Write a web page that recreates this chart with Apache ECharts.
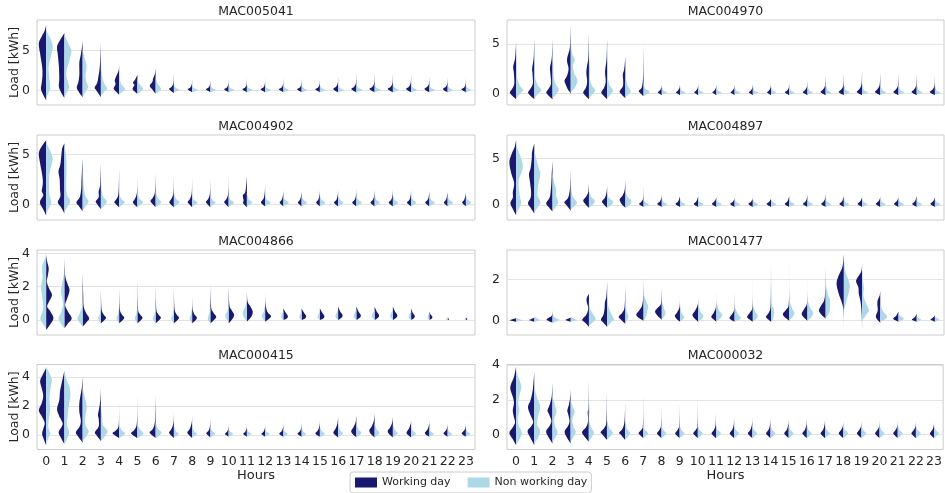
<!DOCTYPE html>
<html><head><meta charset="utf-8">
<script src="https://cdn.jsdelivr.net/npm/echarts@6/dist/echarts.min.js"></script>
<style>html,body{margin:0;padding:0;background:#fff}#c{width:945px;height:493px}</style>
</head><body><div id="c"></div>
<script>
// ---------- DATA ----------
const HOURS = ['0','1','2','3','4','5','6','7','8','9','10','11','12','13','14','15','16','17','18','19','20','21','22','23'];
const METERS = ['MAC005041','MAC004970','MAC004902','MAC004897','MAC004866','MAC001477','MAC000415','MAC000032'];
const LEGEND = ['Working day','Non working day'];
const Y_RANGES = [[-1.79,8.84],[-1.19,7.43],[-1.57,6.93],[-1.6,7.5],[-0.9,4.2],[-0.69,3.42],[-0.98,4.84],[-0.85,4.03]];
const Y_TICKS = [[0,5],[0,5],[0,5],[0,5],[0,2,4],[0,2],[0,2,4],[0,2,4]];
// which side the working-day half is drawn on (-1 left, 1 right)
const WORK_SIDE = [-1,-1,-1,-1,1,-1,-1,-1];

// Each half violin: [load kWh, relative density 0..1] knots, bottom to top
const MAC005041_work = [
 [[-1.2,0],[-0.6,.35],[0.2,.7],[1,.6],[2,.5],[3,.55],[4.5,.8],[5.9,1],[6.8,.6],[7.5,.2],[8.2,0]],
 [[-0.9,0],[-0.3,.4],[0.5,.75],[1.5,.7],[3,.75],[4.5,.9],[5.5,1],[6.3,.6],[7.2,0]],
 [[-0.8,0],[-0.2,.5],[0.4,.8],[1,.6],[2,.45],[3.5,.45],[4.5,.25],[5.5,.08],[6.3,0]],
 [[-0.8,0],[0,.6],[0.4,.85],[1,.5],[2,.3],[3,.15],[4.5,.05],[6,0]],
 [[-0.5,0],[0,.55],[0.3,.75],[0.8,.5],[1.3,.6],[1.8,.4],[2.5,.08],[3.2,0]],
 [[-0.4,0],[0.1,.6],[0.4,.6],[0.7,.4],[1,.6],[1.4,.3],[2,0]],
 [[-0.4,0],[0.1,.4],[0.6,.8],[1.1,.45],[1.5,.35],[2.1,.1],[2.8,0]],
 [[-0.3,0],[0.05,.5],[0.25,.65],[0.5,.3],[1,.06],[2.3,0]],
 [[-0.2,0],[0.05,.45],[0.2,.6],[0.4,.25],[0.8,.05],[1.5,0]],
 [[-0.2,0],[0.05,.45],[0.2,.6],[0.4,.25],[0.8,.05],[1.5,0]],
 [[-0.2,0],[0.05,.45],[0.2,.6],[0.4,.25],[0.8,.05],[1.5,0]],
 [[-0.2,0],[0.05,.45],[0.2,.6],[0.4,.25],[0.8,.05],[1.6,0]],
 [[-0.2,0],[0.05,.45],[0.2,.62],[0.4,.25],[0.8,.05],[1.6,0]],
 [[-0.2,0],[0.05,.45],[0.2,.62],[0.4,.25],[0.8,.05],[1.6,0]],
 [[-0.2,0],[0.05,.45],[0.2,.62],[0.4,.25],[0.8,.05],[1.6,0]],
 [[-0.2,0],[0.05,.45],[0.2,.62],[0.4,.25],[0.8,.05],[1.5,0]],
 [[-0.2,0],[0.05,.5],[0.25,.65],[0.5,.3],[0.9,.06],[1.8,0]],
 [[-0.2,0],[0.05,.5],[0.25,.68],[0.5,.3],[1,.06],[2.3,0]],
 [[-0.2,0],[0.05,.5],[0.25,.7],[0.5,.3],[1,.06],[2.3,0]],
 [[-0.2,0],[0.05,.5],[0.25,.7],[0.5,.3],[1,.06],[2.2,0]],
 [[-0.2,0],[0.05,.5],[0.25,.68],[0.5,.3],[1,.06],[2.0,0]],
 [[-0.2,0],[0.05,.5],[0.25,.65],[0.5,.3],[0.9,.06],[1.8,0]],
 [[-0.2,0],[0.05,.5],[0.25,.62],[0.5,.25],[0.9,.05],[1.7,0]],
 [[-0.2,0],[0.05,.45],[0.2,.6],[0.4,.25],[0.8,.05],[1.6,0]]
];
const MAC005041_off = [
 [[-1,0],[-0.3,.3],[0.3,.55],[1.5,.45],[3,.35],[4.5,.7],[5.5,.9],[6.5,.6],[7.5,0]],
 [[-0.8,0],[0,.45],[0.5,.65],[1.5,.35],[2.5,.3],[4,.75],[5,.95],[6,.5],[7,0]],
 [[-0.7,0],[0,.5],[0.5,.75],[1.2,.5],[2,.4],[3,.55],[4,.3],[5,.05],[5.5,0]],
 [[-0.6,0],[0,.6],[0.3,.85],[1,.4],[2,.15],[3,.05],[4,0]],
 [[-0.5,0],[0,.6],[0.3,.8],[0.8,.3],[1.5,.1],[2.2,0]],
 [[-0.4,0],[0.1,.7],[0.4,.7],[0.9,.2],[1.5,0]],
 [[-0.4,0],[0.1,.7],[0.5,.6],[1,.2],[1.8,0]],
 [[-0.2,0],[0,.6],[0.15,.75],[0.35,.3],[0.7,.06],[1.3,0]],
 [[-0.2,0],[0,.6],[0.12,.75],[0.3,.3],[0.6,.05],[1.1,0]],
 [[-0.2,0],[0,.6],[0.12,.75],[0.3,.3],[0.6,.05],[1.0,0]],
 [[-0.2,0],[0,.6],[0.12,.75],[0.3,.3],[0.6,.05],[1.0,0]],
 [[-0.2,0],[0,.6],[0.12,.75],[0.3,.3],[0.6,.05],[1.1,0]],
 [[-0.2,0],[0,.6],[0.12,.75],[0.3,.3],[0.6,.05],[1.1,0]],
 [[-0.2,0],[0,.6],[0.12,.75],[0.3,.3],[0.6,.05],[1.1,0]],
 [[-0.2,0],[0,.6],[0.12,.75],[0.3,.3],[0.6,.05],[1.1,0]],
 [[-0.2,0],[0,.6],[0.12,.75],[0.3,.3],[0.6,.05],[1.1,0]],
 [[-0.2,0],[0,.6],[0.12,.75],[0.3,.3],[0.6,.05],[1.2,0]],
 [[-0.2,0],[0,.6],[0.15,.75],[0.35,.3],[0.7,.05],[1.3,0]],
 [[-0.2,0],[0,.6],[0.15,.75],[0.35,.3],[0.7,.05],[1.3,0]],
 [[-0.2,0],[0,.6],[0.15,.75],[0.35,.3],[0.7,.05],[1.3,0]],
 [[-0.2,0],[0,.6],[0.15,.75],[0.35,.3],[0.7,.05],[1.2,0]],
 [[-0.2,0],[0,.6],[0.12,.75],[0.3,.3],[0.6,.05],[1.2,0]],
 [[-0.2,0],[0,.6],[0.12,.75],[0.3,.3],[0.6,.05],[1.1,0]],
 [[-0.2,0],[0,.6],[0.12,.75],[0.3,.3],[0.6,.05],[1.1,0]]
];
const MAC004970_work = [
 [[-0.6,0],[-0.2,.6],[0.1,.85],[0.5,.5],[1,.25],[2,.3],[2.7,.4],[3.5,.15],[4.5,.05],[5.2,0]],
 [[-0.6,0],[-0.2,.6],[0.1,.85],[0.5,.5],[1,.2],[2,.25],[2.5,.3],[3.5,.1],[4.5,.04],[5.6,0]],
 [[-0.6,0],[-0.2,.6],[0.1,.85],[0.5,.5],[1,.2],[2,.3],[2.6,.35],[3.5,.12],[4.5,.04],[5.5,0]],
 [[0,0],[0.4,.4],[0.9,.7],[1.3,.85],[1.8,.5],[2.5,.3],[3.2,.5],[3.7,.45],[4.5,.15],[5.5,.05],[6.9,0]],
 [[-0.6,0],[-0.2,.55],[0.1,.78],[0.6,.4],[1.2,.25],[2,.35],[2.6,.3],[3.5,.1],[5,.03],[6.2,0]],
 [[-0.6,0],[-0.2,.55],[0.1,.8],[0.6,.4],[1.2,.2],[2,.28],[2.5,.25],[3.5,.08],[5,.02],[5.5,0]],
 [[-0.5,0],[-0.1,.55],[0.2,.78],[0.7,.35],[1.3,.3],[1.9,.35],[2.5,.15],[3.7,0]],
 [[-0.3,0],[0.05,.5],[0.25,.65],[0.6,.25],[1.5,.08],[3,.03],[4.9,0]],
 [[-0.2,0],[0,.4],[0.1,.55],[0.3,.25],[0.6,.05],[1.0,0]],
 [[-0.2,0],[0,.4],[0.1,.55],[0.3,.25],[0.6,.05],[1.0,0]],
 [[-0.2,0],[0,.4],[0.1,.55],[0.3,.25],[0.6,.05],[1.1,0]],
 [[-0.2,0],[0,.4],[0.1,.55],[0.3,.25],[0.6,.05],[1.0,0]],
 [[-0.2,0],[0,.4],[0.1,.55],[0.3,.25],[0.6,.05],[1.0,0]],
 [[-0.2,0],[0,.4],[0.1,.55],[0.3,.25],[0.6,.05],[1.0,0]],
 [[-0.2,0],[0,.4],[0.1,.55],[0.3,.25],[0.6,.05],[1.1,0]],
 [[-0.2,0],[0,.45],[0.12,.6],[0.3,.25],[0.6,.05],[1.2,0]],
 [[-0.2,0],[0,.45],[0.12,.62],[0.35,.3],[0.7,.06],[1.3,0]],
 [[-0.2,0],[0,.5],[0.15,.7],[0.4,.35],[0.8,.08],[1.8,0]],
 [[-0.2,0],[0,.5],[0.15,.7],[0.4,.35],[0.8,.08],[1.9,0]],
 [[-0.2,0],[0,.5],[0.15,.72],[0.45,.35],[0.9,.08],[2.2,0]],
 [[-0.2,0],[0,.5],[0.15,.72],[0.45,.35],[0.9,.08],[2.1,0]],
 [[-0.2,0],[0,.5],[0.15,.7],[0.4,.35],[0.8,.08],[2.0,0]],
 [[-0.2,0],[0,.5],[0.15,.7],[0.4,.35],[0.8,.08],[1.9,0]],
 [[-0.2,0],[0,.5],[0.15,.7],[0.4,.3],[0.8,.06],[1.8,0]]
];
const MAC004970_off = [
 [[-0.5,0],[0,.6],[0.35,.95],[0.8,.5],[1.5,.15],[2.5,.1],[3.5,.05],[4.5,0]],
 [[-0.5,0],[0,.6],[0.35,.95],[0.8,.5],[1.5,.15],[2.5,.1],[3.5,.05],[4.8,0]],
 [[-0.5,0],[0,.6],[0.4,.85],[1,.4],[1.8,.15],[3,.1],[4.5,0]],
 [[0.1,0],[0.5,.5],[1,.85],[1.4,.9],[2,.5],[2.8,.3],[3.4,.55],[4,.2],[5,.05],[6,0]],
 [[-0.5,0],[0,.6],[0.3,.85],[0.8,.4],[1.5,.15],[2.5,.15],[3.5,.05],[4.5,0]],
 [[-0.5,0],[0,.6],[0.3,.8],[0.8,.35],[1.5,.12],[2.5,.1],[3.5,.03],[4.5,0]],
 [[-0.4,0],[0,.6],[0.3,.7],[0.8,.3],[1.5,.1],[2.5,0]],
 [[-0.3,0],[0,.65],[0.2,.8],[0.5,.2],[1.2,0]],
 [[-0.1,0],[0,.6],[0.1,.7],[0.3,.2],[0.8,0]],
 [[-0.1,0],[0,.6],[0.1,.7],[0.3,.2],[0.8,0]],
 [[-0.1,0],[0,.6],[0.1,.7],[0.3,.2],[0.8,0]],
 [[-0.1,0],[0,.6],[0.1,.7],[0.3,.2],[0.8,0]],
 [[-0.1,0],[0,.6],[0.1,.7],[0.3,.2],[0.8,0]],
 [[-0.1,0],[0,.6],[0.1,.7],[0.3,.2],[0.8,0]],
 [[-0.1,0],[0,.6],[0.1,.7],[0.3,.2],[0.8,0]],
 [[-0.1,0],[0,.6],[0.1,.7],[0.3,.2],[0.9,0]],
 [[-0.1,0],[0,.6],[0.1,.72],[0.3,.25],[0.9,0]],
 [[-0.1,0],[0,.6],[0.12,.75],[0.35,.25],[1.0,0]],
 [[-0.1,0],[0,.6],[0.12,.75],[0.35,.25],[1.0,0]],
 [[-0.1,0],[0,.6],[0.12,.75],[0.35,.25],[1.1,0]],
 [[-0.1,0],[0,.6],[0.12,.75],[0.35,.25],[1.0,0]],
 [[-0.1,0],[0,.6],[0.12,.75],[0.35,.25],[1.0,0]],
 [[-0.1,0],[0,.6],[0.12,.72],[0.35,.25],[1.0,0]],
 [[-0.1,0],[0,.6],[0.1,.7],[0.3,.2],[0.9,0]]
];
const MAC004902_work = [
 [[-1.1,0],[-0.5,.4],[0.2,.85],[0.9,.4],[1.3,.6],[1.8,.5],[2.3,.45],[3,.55],[4,.8],[5.1,1],[5.8,.6],[6.4,0]],
 [[-0.9,0],[-0.3,.45],[0.2,.9],[0.8,.55],[1.5,.6],[2.5,.65],[3.3,.8],[4,.55],[5,.4],[5.6,.3],[6.1,0]],
 [[-0.7,0],[-0.2,.5],[0.2,.85],[0.7,.4],[1.5,.2],[2.5,.15],[3.5,.08],[4.6,0]],
 [[-0.5,0],[0,.5],[0.3,.7],[0.7,.3],[1.3,.3],[2,.1],[4.1,0]],
 [[-0.3,0],[0.05,.5],[0.25,.65],[0.6,.3],[1.2,.08],[3.5,0]],
 [[-0.3,0],[0.05,.5],[0.25,.6],[0.6,.3],[1.2,.06],[2.6,0]],
 [[-0.3,0],[0.1,.5],[0.35,.7],[0.7,.35],[1.3,.08],[3.1,0]],
 [[-0.3,0],[0.05,.5],[0.25,.62],[0.6,.3],[1.2,.06],[2.8,0]],
 [[-0.3,0],[0.05,.45],[0.25,.6],[0.6,.25],[1.2,.05],[2.5,0]],
 [[-0.3,0],[0.05,.45],[0.25,.6],[0.6,.25],[1.2,.05],[2.6,0]],
 [[-0.3,0],[0.05,.45],[0.25,.6],[0.6,.25],[1.2,.05],[2.8,0]],
 [[-0.3,0],[0.1,.5],[0.4,.45],[0.9,.55],[1.3,.2],[2.8,0]],
 [[-0.2,0],[0.05,.45],[0.25,.55],[0.6,.2],[1.2,.05],[2.0,0]],
 [[-0.2,0],[0.05,.4],[0.2,.5],[0.5,.2],[1,.04],[1.4,0]],
 [[-0.2,0],[0.05,.4],[0.2,.5],[0.5,.2],[1,.04],[1.3,0]],
 [[-0.2,0],[0.05,.4],[0.2,.5],[0.5,.2],[1,.04],[1.4,0]],
 [[-0.2,0],[0.05,.45],[0.2,.55],[0.5,.2],[1,.04],[1.5,0]],
 [[-0.2,0],[0.05,.45],[0.2,.55],[0.5,.2],[1,.04],[1.6,0]],
 [[-0.2,0],[0.05,.45],[0.2,.55],[0.5,.2],[1,.04],[1.5,0]],
 [[-0.2,0],[0.05,.45],[0.2,.55],[0.5,.2],[1,.04],[1.5,0]],
 [[-0.2,0],[0.05,.45],[0.2,.55],[0.5,.2],[1,.04],[1.5,0]],
 [[-0.2,0],[0.05,.45],[0.2,.55],[0.5,.2],[1,.04],[1.4,0]],
 [[-0.2,0],[0.05,.4],[0.2,.5],[0.5,.2],[1,.04],[1.3,0]],
 [[-0.2,0],[0.05,.4],[0.2,.5],[0.5,.2],[1,.04],[1.2,0]]
];
const MAC004902_off = [
 [[-1,0],[-0.4,.35],[0.2,.7],[1,.45],[2,.4],[3,.45],[4,.75],[4.6,.9],[5.3,.6],[6,.15],[6.5,0]],
 [[-0.8,0],[-0.2,.45],[0.3,.8],[1,.35],[2,.25],[3.5,.3],[4.8,.25],[5.5,.1],[6,0]],
 [[-0.6,0],[-0.1,.5],[0.3,.8],[0.9,.35],[1.8,.15],[3,.06],[4,0]],
 [[-0.5,0],[0,.6],[0.3,.8],[0.8,.3],[1.5,.1],[2.5,0]],
 [[-0.3,0],[0.05,.6],[0.25,.75],[0.6,.25],[1.2,0]],
 [[-0.3,0],[0.05,.6],[0.25,.75],[0.6,.25],[1.2,0]],
 [[-0.3,0],[0.05,.6],[0.25,.75],[0.6,.3],[1.3,0]],
 [[-0.3,0],[0.05,.6],[0.25,.75],[0.6,.25],[1.2,0]],
 [[-0.2,0],[0.05,.6],[0.2,.7],[0.5,.2],[1.0,0]],
 [[-0.2,0],[0.05,.6],[0.2,.7],[0.5,.2],[1.0,0]],
 [[-0.2,0],[0.05,.6],[0.2,.7],[0.5,.2],[1.0,0]],
 [[-0.2,0],[0.05,.6],[0.2,.7],[0.5,.25],[1.1,0]],
 [[-0.2,0],[0.05,.6],[0.2,.7],[0.5,.2],[1.0,0]],
 [[-0.2,0],[0.05,.6],[0.2,.7],[0.5,.2],[0.9,0]],
 [[-0.2,0],[0.05,.6],[0.2,.7],[0.5,.2],[0.9,0]],
 [[-0.2,0],[0.05,.6],[0.2,.7],[0.5,.2],[0.9,0]],
 [[-0.2,0],[0.05,.6],[0.2,.7],[0.5,.2],[1.0,0]],
 [[-0.2,0],[0.05,.6],[0.2,.7],[0.5,.2],[1.0,0]],
 [[-0.2,0],[0.05,.6],[0.2,.7],[0.5,.2],[1.0,0]],
 [[-0.2,0],[0.05,.6],[0.2,.7],[0.5,.2],[1.0,0]],
 [[-0.2,0],[0.05,.6],[0.2,.7],[0.5,.2],[1.0,0]],
 [[-0.2,0],[0.05,.6],[0.2,.7],[0.5,.2],[0.9,0]],
 [[-0.2,0],[0.05,.6],[0.2,.7],[0.5,.2],[0.9,0]],
 [[-0.2,0],[0.05,.6],[0.2,.7],[0.5,.2],[0.9,0]]
];
const MAC004897_work = [
 [[-1.1,0],[-0.5,.4],[0.2,.78],[0.8,.45],[1.4,.45],[2,.3],[2.5,.3],[3.5,.7],[4.6,.92],[5.5,.6],[6.2,.2],[7,0]],
 [[-0.9,0],[-0.3,.5],[0.2,.87],[0.8,.5],[1.5,.45],[2.5,.6],[3.3,.73],[4,.5],[5,.35],[5.7,.3],[6.6,0]],
 [[-0.7,0],[-0.2,.55],[0.2,.87],[0.8,.4],[1.5,.25],[2.5,.15],[3.5,.1],[4.7,0]],
 [[-0.6,0],[0,.6],[0.3,.87],[0.8,.35],[1.5,.15],[2.5,.05],[3.7,0]],
 [[-0.3,0],[0.1,.5],[0.5,.78],[0.9,.4],[1.4,.1],[2.3,0]],
 [[-0.3,0],[0.1,.5],[0.4,.7],[0.8,.3],[1.3,.1],[2,0]],
 [[-0.3,0],[0.1,.5],[0.6,.78],[1,.4],[1.6,.1],[2.7,0]],
 [[-0.2,0],[0,.45],[0.15,.6],[0.4,.25],[0.8,.05],[2.0,0]],
 [[-0.2,0],[0,.45],[0.15,.6],[0.4,.25],[0.8,.05],[1.2,0]],
 [[-0.2,0],[0,.45],[0.15,.6],[0.4,.25],[0.8,.05],[1.0,0]],
 [[-0.2,0],[0,.45],[0.15,.6],[0.4,.25],[0.8,.05],[1.0,0]],
 [[-0.2,0],[0,.45],[0.15,.6],[0.4,.25],[0.7,.05],[0.9,0]],
 [[-0.2,0],[0,.45],[0.15,.6],[0.35,.25],[0.6,.05],[0.8,0]],
 [[-0.2,0],[0,.45],[0.15,.6],[0.35,.25],[0.6,.05],[0.8,0]],
 [[-0.2,0],[0,.45],[0.15,.6],[0.35,.25],[0.6,.05],[0.8,0]],
 [[-0.2,0],[0,.45],[0.15,.6],[0.4,.25],[0.8,.05],[1.0,0]],
 [[-0.2,0],[0,.45],[0.15,.6],[0.4,.25],[0.8,.05],[1.3,0]],
 [[-0.2,0],[0,.45],[0.15,.6],[0.4,.25],[0.8,.05],[1.4,0]],
 [[-0.2,0],[0,.45],[0.15,.6],[0.4,.25],[0.8,.05],[1.0,0]],
 [[-0.2,0],[0,.45],[0.15,.6],[0.4,.25],[0.7,.05],[0.9,0]],
 [[-0.2,0],[0,.45],[0.15,.6],[0.4,.25],[0.7,.05],[0.9,0]],
 [[-0.2,0],[0,.45],[0.15,.6],[0.4,.25],[0.7,.05],[0.9,0]],
 [[-0.2,0],[0,.45],[0.15,.6],[0.4,.25],[0.8,.05],[1.0,0]],
 [[-0.2,0],[0,.45],[0.15,.6],[0.4,.25],[0.7,.05],[0.9,0]]
];
const MAC004897_off = [
 [[-1,0],[-0.4,.35],[0.2,.7],[1,.5],[2,.35],[2.8,.4],[3.5,.75],[4.2,.92],[5,.7],[6,.2],[6.8,0]],
 [[-0.8,0],[-0.2,.5],[0.3,.85],[1,.45],[2,.5],[3.3,.82],[4,.6],[5,.25],[6,0]],
 [[-0.6,0],[-0.1,.5],[0.3,.8],[1,.5],[1.7,.5],[2.5,.2],[3.5,0]],
 [[-0.5,0],[0,.6],[0.3,.85],[0.9,.3],[1.6,.1],[2.6,0]],
 [[-0.3,0],[0.1,.6],[0.5,.78],[0.9,.3],[1.5,0]],
 [[-0.3,0],[0.1,.7],[0.4,.8],[0.8,.2],[1.4,0]],
 [[-0.3,0],[0.1,.7],[0.5,.8],[0.9,.3],[1.5,0]],
 [[-0.2,0],[0,.6],[0.12,.7],[0.35,.2],[0.8,0]],
 [[-0.2,0],[0,.6],[0.12,.7],[0.35,.2],[0.8,0]],
 [[-0.2,0],[0,.6],[0.12,.7],[0.35,.2],[0.8,0]],
 [[-0.2,0],[0,.6],[0.12,.7],[0.35,.2],[0.8,0]],
 [[-0.2,0],[0,.6],[0.12,.7],[0.35,.2],[0.8,0]],
 [[-0.2,0],[0,.6],[0.12,.7],[0.35,.2],[0.7,0]],
 [[-0.2,0],[0,.6],[0.12,.7],[0.35,.2],[0.7,0]],
 [[-0.2,0],[0,.6],[0.12,.7],[0.35,.2],[0.7,0]],
 [[-0.2,0],[0,.6],[0.12,.7],[0.35,.2],[0.8,0]],
 [[-0.2,0],[0,.6],[0.12,.7],[0.35,.2],[0.8,0]],
 [[-0.2,0],[0,.6],[0.12,.7],[0.35,.2],[0.8,0]],
 [[-0.2,0],[0,.6],[0.12,.7],[0.35,.2],[0.8,0]],
 [[-0.2,0],[0,.6],[0.12,.7],[0.35,.2],[0.8,0]],
 [[-0.2,0],[0,.6],[0.12,.7],[0.35,.2],[0.8,0]],
 [[-0.2,0],[0,.6],[0.12,.7],[0.35,.2],[0.8,0]],
 [[-0.2,0],[0,.6],[0.12,.7],[0.35,.2],[0.8,0]],
 [[-0.2,0],[0,.6],[0.12,.7],[0.35,.2],[0.7,0]]
];
const MAC004866_work = [
 [[-0.6,0],[-0.3,.5],[0.1,1],[0.5,.6],[0.8,.15],[1.1,.4],[1.5,.8],[1.9,.4],[2.3,.1],[2.7,.25],[3.1,.35],[3.5,.15],[3.9,0]],
 [[-0.5,0],[-0.2,.5],[0.1,1],[0.5,.5],[0.9,.1],[1.3,.4],[1.8,.7],[2.2,.4],[2.7,.1],[3.7,0]],
 [[-0.4,0],[-0.1,.6],[0.1,.9],[0.4,.5],[0.8,.15],[1.5,.08],[2.8,0]],
 [[-0.2,0],[0,.5],[0.15,.7],[0.35,.35],[0.7,.08],[1.9,0]],
 [[-0.2,0],[0,.5],[0.15,.7],[0.35,.35],[0.7,.08],[1.9,0]],
 [[-0.2,0],[0,.5],[0.15,.7],[0.35,.35],[0.7,.08],[2.4,0]],
 [[-0.2,0],[0,.5],[0.15,.72],[0.35,.35],[0.7,.08],[2.1,0]],
 [[-0.2,0],[0,.5],[0.15,.7],[0.35,.35],[0.7,.08],[1.9,0]],
 [[-0.2,0],[0,.5],[0.15,.65],[0.35,.3],[0.7,.06],[1.4,0]],
 [[-0.2,0],[0,.5],[0.2,.8],[0.45,.4],[0.8,.1],[2.1,0]],
 [[-0.2,0],[0.05,.5],[0.3,.75],[0.6,.4],[0.9,.1],[2.0,0]],
 [[-0.1,0],[0.2,.6],[0.5,.8],[0.8,.5],[1.1,.1],[1.7,0]],
 [[-0.1,0],[0.1,.6],[0.25,.8],[0.5,.3],[1,.05],[1.7,0]],
 [[0,0],[0.1,.5],[0.25,.6],[0.45,.3],[0.7,0]],
 [[0,0],[0.1,.5],[0.25,.6],[0.45,.3],[0.7,0]],
 [[0,0],[0.1,.5],[0.25,.6],[0.45,.3],[0.7,0]],
 [[0,0],[0.15,.5],[0.3,.6],[0.5,.3],[0.8,0]],
 [[0,0],[0.15,.5],[0.3,.6],[0.5,.3],[0.8,0]],
 [[0,0],[0.15,.5],[0.3,.6],[0.5,.3],[0.8,0]],
 [[0,0],[0.15,.5],[0.3,.6],[0.5,.3],[0.8,0]],
 [[0,0],[0.12,.4],[0.25,.5],[0.45,.2],[0.7,0]],
 [[0,0],[0.1,.35],[0.2,.4],[0.35,.15],[0.5,0]],
 [[0,0],[0.03,.2],[0.08,.15],[0.15,0]],
 [[0,0],[0.03,.2],[0.08,.15],[0.15,0]]
];
const MAC004866_off = [
 [[-0.5,0],[-0.2,.5],[0.1,.8],[0.5,.5],[0.9,.4],[1.4,.55],[2,.7],[2.5,.5],[3,.55],[3.3,.5],[3.7,.15],[4,0]],
 [[-0.5,0],[-0.2,.5],[0.1,.8],[0.5,.4],[1,.2],[1.5,.4],[1.8,.45],[2.2,.3],[2.8,.05],[3.3,0]],
 [[-0.4,0],[-0.1,.5],[0.1,.7],[0.4,.4],[0.8,.1],[1.5,0]],
 [[-0.2,0],[0,.3],[0.15,.35],[0.35,.15],[0.8,0]],
 [[-0.2,0],[0,.3],[0.15,.35],[0.35,.15],[0.8,0]],
 [[-0.2,0],[0,.3],[0.15,.35],[0.35,.15],[0.8,0]],
 [[-0.2,0],[0,.3],[0.15,.35],[0.35,.15],[0.8,0]],
 [[-0.2,0],[0,.3],[0.15,.35],[0.35,.15],[0.8,0]],
 [[-0.2,0],[0,.3],[0.15,.35],[0.35,.15],[0.8,0]],
 [[-0.2,0],[0,.3],[0.15,.35],[0.35,.15],[0.8,0]],
 [[-0.1,0],[0.1,.35],[0.3,.45],[0.5,.2],[0.9,0]],
 [[-0.1,0],[0.2,.45],[0.5,.55],[0.8,.2],[1.2,0]],
 [[-0.1,0],[0.1,.3],[0.25,.45],[0.5,.2],[0.9,0]],
 [[0,0],[0.1,.25],[0.25,.3],[0.5,0]],
 [[0,0],[0.1,.25],[0.25,.3],[0.5,0]],
 [[0,0],[0.1,.25],[0.25,.3],[0.5,0]],
 [[0,0],[0.15,.3],[0.3,.35],[0.6,0]],
 [[0,0],[0.15,.3],[0.3,.35],[0.6,0]],
 [[0,0],[0.15,.3],[0.3,.35],[0.6,0]],
 [[0,0],[0.15,.3],[0.3,.35],[0.6,0]],
 [[0,0],[0.1,.25],[0.25,.3],[0.5,0]],
 [[0,0],[0.1,.2],[0.2,.25],[0.4,0]],
 [[0,0],[0.03,.2],[0.08,.15],[0.15,0]],
 [[0,0],[0.03,.2],[0.08,.15],[0.15,0]]
];
const MAC001477_work = [
 [[-0.05,0],[0.02,.85],[0.06,.6],[0.12,0]],
 [[-0.05,0],[0.03,.7],[0.07,.5],[0.15,0]],
 [[-0.1,0],[0.05,.8],[0.15,.5],[0.3,.05],[0.9,0]],
 [[-0.05,0],[0.03,.7],[0.08,.5],[0.15,0]],
 [[-0.3,0],[-0.1,.5],[0.05,.92],[0.3,.35],[0.6,.1],[0.9,.3],[1.1,.3],[1.3,0]],
 [[-0.3,0],[-0.1,.5],[0.05,.85],[0.3,.5],[0.6,.35],[0.9,.3],[1.2,.1],[1.9,0]],
 [[-0.15,0],[0.05,.6],[0.2,.9],[0.4,.4],[0.7,.1],[1.7,0]],
 [[0,0],[0.15,.7],[0.3,1],[0.5,.6],[0.75,.2],[1.2,.05],[2,0]],
 [[0.05,0],[0.25,.6],[0.45,.92],[0.65,.5],[0.85,.1],[1.6,0]],
 [[-0.05,0],[0.1,.5],[0.25,.7],[0.4,.4],[0.7,.05],[1.3,0]],
 [[-0.05,0],[0.15,.6],[0.3,.78],[0.5,.4],[0.8,.05],[1.2,0]],
 [[-0.05,0],[0.1,.5],[0.2,.7],[0.4,.35],[0.7,.05],[1.4,0]],
 [[-0.05,0],[0.05,.5],[0.15,.7],[0.35,.3],[0.6,.05],[1.45,0]],
 [[-0.05,0],[0.1,.6],[0.2,.78],[0.4,.4],[0.7,.05],[2,0]],
 [[-0.05,0],[0.1,.5],[0.2,.7],[0.4,.3],[0.8,.05],[2.8,0]],
 [[0,0],[0.2,.7],[0.35,.86],[0.55,.4],[0.9,.05],[2.8,0]],
 [[0,0],[0.2,.6],[0.36,.78],[0.6,.4],[0.9,.05],[2,0]],
 [[0.1,0],[0.3,.6],[0.5,.92],[0.75,.6],[1,.2],[1.5,.05],[2.6,0]],
 [[-0.35,0],[0.5,.05],[0.9,.3],[1.3,.7],[1.8,1],[2.2,.7],[2.6,.2],[3.2,0]],
 [[-0.45,0],[0.3,.05],[0.9,.2],[1.3,.45],[1.6,.5],[1.9,.82],[2.1,.6],[2.4,.1],[2.8,0]],
 [[-0.1,0],[0.1,.5],[0.25,.6],[0.5,.35],[0.8,.4],[1,.35],[1.2,.1],[1.45,0]],
 [[-0.05,0],[0.05,.6],[0.12,.7],[0.25,.3],[0.45,0]],
 [[-0.05,0],[0.03,.6],[0.08,.6],[0.2,.2],[0.35,0]],
 [[-0.05,0],[0.03,.5],[0.08,.55],[0.2,.1],[0.3,0]]
];
const MAC001477_off = [
 [[-0.05,0],[0.02,.85],[0.07,.5],[0.15,0]],
 [[-0.05,0],[0.03,.85],[0.08,.5],[0.2,0]],
 [[-0.1,0],[0.03,.95],[0.1,.6],[0.25,0]],
 [[-0.05,0],[0.03,.85],[0.08,.5],[0.2,0]],
 [[-0.25,0],[-0.05,.6],[0.1,.92],[0.35,.5],[0.6,.15],[1,0]],
 [[-0.3,0],[-0.05,.6],[0.05,.95],[0.3,.6],[0.5,.35],[0.8,.1],[1.3,0]],
 [[-0.1,0],[0.1,.35],[0.25,.4],[0.5,.15],[1.3,0]],
 [[0,0],[0.2,.35],[0.45,.5],[0.7,.65],[0.9,.4],[1.3,0]],
 [[0.05,0],[0.25,.4],[0.4,.5],[0.6,.3],[0.9,0]],
 [[-0.05,0],[0.1,.5],[0.2,.55],[0.4,.2],[0.8,0]],
 [[-0.05,0],[0.1,.55],[0.25,.7],[0.45,.3],[0.8,0]],
 [[-0.05,0],[0.15,.6],[0.3,.8],[0.5,.35],[0.9,0]],
 [[-0.05,0],[0.05,.6],[0.15,.85],[0.35,.4],[0.7,0]],
 [[-0.05,0],[0.1,.5],[0.25,.7],[0.45,.3],[0.8,0]],
 [[-0.1,0],[0.1,.3],[0.35,.4],[0.6,.35],[0.9,.1],[2.5,0]],
 [[0,0],[0.2,.5],[0.4,.7],[0.6,.4],[1,0]],
 [[0,0],[0.2,.6],[0.4,.8],[0.6,.4],[1,0]],
 [[0.1,0],[0.4,.5],[0.7,.6],[1,.6],[1.3,.3],[1.8,0]],
 [[0.5,0],[1,.4],[1.4,.7],[1.7,.82],[2,.6],[2.4,.2],[3,0]],
 [[0,0],[0.3,.6],[0.5,.95],[0.8,.6],[1.2,.2],[1.6,.25],[2,.1],[2.5,0]],
 [[-0.05,0],[0.1,.8],[0.25,.9],[0.45,.4],[0.8,0]],
 [[-0.05,0],[0.05,.6],[0.12,.7],[0.25,.2],[0.4,0]],
 [[-0.05,0],[0.03,.6],[0.08,.5],[0.2,0]],
 [[-0.05,0],[0.03,.6],[0.08,.5],[0.2,0]]
];
const MAC000415_work = [
 [[-0.7,0],[-0.3,.3],[0.1,.55],[0.5,.35],[0.85,.2],[1.3,.6],[1.7,1],[2.2,.6],[2.7,.4],[3.2,.6],[3.7,.82],[4.1,.5],[4.6,0]],
 [[-0.6,0],[-0.2,.45],[0.2,.78],[0.6,.35],[0.85,.25],[1.3,.7],[1.8,1],[2.4,.7],[3,.6],[3.5,.4],[4.4,0]],
 [[-0.5,0],[-0.1,.6],[0.2,.92],[0.6,.4],[1,.25],[1.6,.45],[2.2,.45],[2.7,.3],[3.3,.1],[4,0]],
 [[-0.4,0],[0,.6],[0.2,.82],[0.6,.3],[1.1,.3],[1.4,.4],[1.8,.25],[2.4,.08],[3.2,0]],
 [[-0.2,0],[0,.6],[0.15,.9],[0.35,.4],[0.7,.06],[2.2,0]],
 [[-0.2,0],[0,.6],[0.15,.86],[0.4,.35],[0.9,.06],[2.7,0]],
 [[-0.2,0],[0.05,.6],[0.2,.82],[0.45,.35],[0.9,.1],[1.5,.05],[2.7,0]],
 [[-0.2,0],[0.05,.5],[0.2,.65],[0.45,.3],[0.9,.05],[1.6,0]],
 [[-0.2,0],[0.05,.5],[0.2,.65],[0.45,.3],[0.9,.05],[1.4,0]],
 [[-0.15,0],[0.05,.45],[0.15,.55],[0.35,.2],[0.7,.04],[1.2,0]],
 [[-0.1,0],[0.03,.4],[0.1,.5],[0.25,.2],[0.5,.03],[0.9,0]],
 [[-0.1,0],[0.03,.4],[0.1,.5],[0.25,.2],[0.5,.03],[0.8,0]],
 [[-0.1,0],[0.03,.4],[0.1,.5],[0.25,.2],[0.5,.03],[0.8,0]],
 [[-0.1,0],[0.03,.45],[0.12,.55],[0.3,.2],[0.6,.03],[1.0,0]],
 [[-0.1,0],[0.03,.45],[0.12,.55],[0.3,.2],[0.6,.03],[1.0,0]],
 [[-0.1,0],[0.05,.5],[0.15,.6],[0.35,.25],[0.7,.04],[1.1,0]],
 [[-0.15,0],[0.05,.5],[0.2,.65],[0.45,.35],[0.8,.1],[1.3,0]],
 [[-0.15,0],[0.1,.55],[0.3,.7],[0.55,.4],[0.9,.1],[1.4,0]],
 [[-0.15,0],[0.1,.55],[0.35,.72],[0.6,.4],[1,.1],[1.5,0]],
 [[-0.15,0],[0.1,.55],[0.3,.7],[0.55,.35],[0.9,.08],[1.3,0]],
 [[-0.15,0],[0.05,.5],[0.2,.62],[0.45,.3],[0.8,.05],[1.1,0]],
 [[-0.1,0],[0.05,.5],[0.18,.6],[0.4,.25],[0.7,.05],[1.0,0]],
 [[-0.1,0],[0.05,.45],[0.15,.55],[0.35,.2],[0.6,.03],[0.9,0]],
 [[-0.1,0],[0.05,.45],[0.15,.55],[0.35,.2],[0.6,.03],[0.9,0]]
];
const MAC000415_off = [
 [[-0.6,0],[-0.2,.3],[0.1,.55],[0.6,.3],[1.2,.4],[1.8,.55],[2.5,.45],[3.2,.6],[3.8,.78],[4.3,.4],[4.7,0]],
 [[-0.6,0],[-0.2,.4],[0.2,.65],[0.7,.35],[1.3,.45],[2,.6],[2.7,.82],[3.3,.7],[3.8,.3],[4.4,0]],
 [[-0.4,0],[0,.6],[0.3,.82],[0.7,.4],[1.2,.35],[1.8,.55],[2.3,.45],[3,.1],[3.5,0]],
 [[-0.4,0],[0,.65],[0.3,.9],[0.7,.3],[1.3,.15],[2.2,0]],
 [[-0.2,0],[0,.6],[0.15,.82],[0.35,.35],[0.7,0]],
 [[-0.2,0],[0,.65],[0.15,.82],[0.4,.35],[0.8,0]],
 [[-0.2,0],[0.05,.65],[0.2,.8],[0.45,.3],[0.9,0]],
 [[-0.15,0],[0.03,.55],[0.12,.65],[0.3,.25],[0.7,0]],
 [[-0.15,0],[0.03,.55],[0.12,.65],[0.3,.25],[0.7,0]],
 [[-0.15,0],[0.03,.55],[0.12,.65],[0.3,.25],[0.6,0]],
 [[-0.1,0],[0.03,.5],[0.1,.6],[0.25,.2],[0.5,0]],
 [[-0.1,0],[0.03,.5],[0.1,.6],[0.25,.2],[0.5,0]],
 [[-0.1,0],[0.03,.5],[0.1,.6],[0.25,.2],[0.5,0]],
 [[-0.1,0],[0.03,.5],[0.1,.6],[0.25,.2],[0.5,0]],
 [[-0.1,0],[0.03,.5],[0.1,.6],[0.25,.2],[0.6,0]],
 [[-0.15,0],[0.03,.55],[0.12,.65],[0.3,.25],[0.6,0]],
 [[-0.15,0],[0.05,.55],[0.15,.65],[0.35,.3],[0.7,0]],
 [[-0.15,0],[0.05,.55],[0.2,.65],[0.4,.3],[0.8,0]],
 [[-0.15,0],[0.05,.55],[0.2,.65],[0.4,.3],[0.8,0]],
 [[-0.15,0],[0.05,.55],[0.15,.65],[0.35,.3],[0.7,0]],
 [[-0.15,0],[0.03,.55],[0.12,.65],[0.3,.25],[0.6,0]],
 [[-0.1,0],[0.03,.5],[0.1,.6],[0.25,.2],[0.5,0]],
 [[-0.1,0],[0.03,.5],[0.1,.6],[0.25,.2],[0.5,0]],
 [[-0.1,0],[0.03,.5],[0.1,.6],[0.25,.2],[0.5,0]]
];
const MAC000032_work = [
 [[-0.6,0],[-0.3,.4],[0.1,.92],[0.4,.5],[0.7,.15],[1.1,.35],[1.4,.45],[1.8,.3],[2.1,.4],[2.6,.78],[2.9,.7],[3.3,.3],[3.9,0]],
 [[-0.6,0],[-0.2,.5],[0.2,.92],[0.5,.4],[0.75,.15],[1.2,.6],[1.6,.86],[2,.5],[2.6,.2],[3.6,0]],
 [[-0.5,0],[-0.1,.6],[0.2,.86],[0.5,.4],[0.8,.15],[1.2,.5],[1.4,.68],[1.7,.4],[2.2,.1],[3,0]],
 [[-0.5,0],[-0.1,.6],[0.2,.82],[0.5,.35],[0.8,.15],[1.2,.35],[1.4,.45],[1.7,.25],[2.1,.08],[2.6,0]],
 [[-0.4,0],[-0.1,.6],[0.15,.92],[0.45,.35],[0.8,.1],[1.3,.15],[1.6,.05],[3.2,0]],
 [[-0.3,0],[0,.6],[0.15,.86],[0.4,.35],[0.8,.08],[2.5,0]],
 [[-0.3,0],[0,.6],[0.12,.82],[0.35,.35],[0.8,.08],[1.8,0]],
 [[-0.2,0],[0,.5],[0.1,.65],[0.3,.25],[0.6,.05],[2.3,0]],
 [[-0.2,0],[0,.5],[0.1,.6],[0.3,.25],[0.6,.05],[1.7,0]],
 [[-0.2,0],[0,.5],[0.1,.6],[0.3,.25],[0.6,.05],[1.8,0]],
 [[-0.2,0],[0,.5],[0.1,.62],[0.3,.25],[0.6,.05],[2.1,0]],
 [[-0.2,0],[0,.5],[0.1,.6],[0.3,.25],[0.6,.05],[1.3,0]],
 [[-0.2,0],[0,.5],[0.1,.6],[0.3,.25],[0.6,.05],[1.1,0]],
 [[-0.2,0],[0,.5],[0.1,.6],[0.3,.25],[0.6,.05],[1.0,0]],
 [[-0.2,0],[0,.5],[0.1,.6],[0.3,.25],[0.6,.05],[1.0,0]],
 [[-0.2,0],[0,.5],[0.1,.6],[0.3,.25],[0.6,.05],[0.9,0]],
 [[-0.2,0],[0,.5],[0.1,.6],[0.3,.25],[0.6,.05],[1.0,0]],
 [[-0.2,0],[0,.5],[0.1,.6],[0.3,.25],[0.6,.05],[0.9,0]],
 [[-0.2,0],[0,.5],[0.1,.6],[0.3,.25],[0.5,.05],[0.8,0]],
 [[-0.2,0],[0,.5],[0.1,.6],[0.3,.25],[0.5,.05],[0.8,0]],
 [[-0.2,0],[0,.5],[0.1,.6],[0.3,.25],[0.5,.05],[0.8,0]],
 [[-0.2,0],[0,.5],[0.1,.6],[0.3,.25],[0.5,.05],[0.8,0]],
 [[-0.2,0],[0,.5],[0.1,.6],[0.3,.25],[0.5,.05],[0.8,0]],
 [[-0.2,0],[0,.5],[0.1,.55],[0.3,.2],[0.5,.05],[0.7,0]]
];
const MAC000032_off = [
 [[-0.6,0],[-0.3,.4],[0.1,.8],[0.5,.4],[0.9,.25],[1.4,.45],[1.9,.3],[2.4,.55],[2.8,.72],[3.2,.4],[3.7,0]],
 [[-0.5,0],[-0.2,.5],[0.2,.82],[0.6,.4],[1,.5],[1.6,.82],[2,.5],[2.5,.15],[3.2,0]],
 [[-0.4,0],[0,.6],[0.2,.7],[0.5,.35],[0.9,.25],[1.3,.55],[1.7,.35],[2.2,.05],[2.6,0]],
 [[-0.4,0],[0,.55],[0.2,.7],[0.5,.35],[0.9,.25],[1.3,.55],[1.6,.3],[2,0]],
 [[-0.4,0],[0,.6],[0.15,.7],[0.45,.3],[0.9,.05],[1.4,.1],[2,0]],
 [[-0.3,0],[0,.65],[0.15,.8],[0.4,.3],[0.9,0]],
 [[-0.3,0],[0,.6],[0.12,.7],[0.35,.25],[0.8,0]],
 [[-0.2,0],[0,.55],[0.1,.65],[0.3,.2],[0.6,0]],
 [[-0.2,0],[0,.55],[0.1,.65],[0.3,.2],[0.6,0]],
 [[-0.2,0],[0,.55],[0.1,.65],[0.3,.2],[0.6,0]],
 [[-0.2,0],[0,.55],[0.1,.65],[0.3,.2],[0.6,0]],
 [[-0.2,0],[0,.55],[0.1,.65],[0.3,.2],[0.6,0]],
 [[-0.2,0],[0,.55],[0.1,.65],[0.3,.2],[0.6,0]],
 [[-0.2,0],[0,.55],[0.1,.65],[0.3,.2],[0.6,0]],
 [[-0.2,0],[0,.55],[0.1,.65],[0.3,.2],[0.6,0]],
 [[-0.2,0],[0,.55],[0.1,.65],[0.3,.2],[0.6,0]],
 [[-0.2,0],[0,.55],[0.1,.65],[0.3,.2],[0.6,0]],
 [[-0.2,0],[0,.55],[0.1,.65],[0.3,.2],[0.6,0]],
 [[-0.2,0],[0,.55],[0.1,.65],[0.3,.2],[0.6,0]],
 [[-0.2,0],[0,.55],[0.1,.65],[0.3,.2],[0.6,0]],
 [[-0.2,0],[0,.55],[0.1,.65],[0.3,.2],[0.6,0]],
 [[-0.2,0],[0,.55],[0.1,.65],[0.3,.2],[0.6,0]],
 [[-0.2,0],[0,.55],[0.1,.65],[0.3,.2],[0.6,0]],
 [[-0.2,0],[0,.55],[0.1,.65],[0.3,.2],[0.6,0]]
];
const WORK = [MAC005041_work, MAC004970_work, MAC004902_work, MAC004897_work, MAC004866_work, MAC001477_work, MAC000415_work, MAC000032_work];
const OFF = [MAC005041_off, MAC004970_off, MAC004902_off, MAC004897_off, MAC004866_off, MAC001477_off, MAC000415_off, MAC000032_off];

// ---------- STYLE / LAYOUT ----------
const C_WORK = '#191970', C_OFF = '#add8e6';
const FONT = 'DejaVu Sans';
const TXT = '#262626';
const COL_LEFT = [37, 507], COL_W = [438, 437];
const ROW_TOP = [20, 135, 250, 364.5], ROW_H = 85;

function cr(a, b, c, d, t) {
  const t2 = t * t, t3 = t2 * t;
  return 0.5 * ((2 * b) + (-a + c) * t + (2 * a - 5 * b + 4 * c - d) * t2 + (-a + 3 * b - 3 * c + d) * t3);
}
function makeRender(arr, side, color) {
  return function (params, api) {
    const i = api.value(0);
    const k = arr[i];
    if (!k) return;
    const cx = api.coord([i, 0])[0];
    const half = api.size([1, 0])[0] * 0.4;
    const n = k.length, pts = [];
    for (let s = 0; s < n - 1; s++) {
      const p0 = k[Math.max(s - 1, 0)], p1 = k[s], p2 = k[s + 1], p3 = k[Math.min(s + 2, n - 1)];
      const steps = 10;
      for (let t = 0; t < steps; t++) {
        const u = t / steps;
        const y = cr(p0[0], p1[0], p2[0], p3[0], u);
        const w = Math.max(0, cr(p0[1], p1[1], p2[1], p3[1], u));
        pts.push([cx + side * w * half, api.coord([i, y])[1]]);
      }
    }
    pts.push([cx, api.coord([i, k[n - 1][0]])[1]]);
    pts.push([cx, api.coord([i, k[0][0]])[1]]);
    return { type: 'polygon', shape: { points: pts }, style: { fill: color } };
  };
}

const grids = [], xAxes = [], yAxes = [], series = [], graphics = [];
METERS.forEach((m, p) => {
  const col = p % 2, row = Math.floor(p / 2);
  grids.push({ left: COL_LEFT[col], width: COL_W[col], top: ROW_TOP[row], height: ROW_H,
    show: true, borderColor: '#cccccc', borderWidth: 1, containLabel: false });
  xAxes.push({ type: 'category', gridIndex: p, data: HOURS,
    axisLine: { show: false }, axisTick: { show: false }, splitLine: { show: false },
    axisLabel: { show: row === 3, fontFamily: FONT, fontSize: 12.5, color: TXT, margin: 6, interval: 0 } });
  yAxes.push({ type: 'value', gridIndex: p, min: Y_RANGES[p][0], max: Y_RANGES[p][1],
    axisLine: { show: false }, axisTick: { show: false, customValues: Y_TICKS[p] },
    axisLabel: { customValues: Y_TICKS[p], fontFamily: FONT, fontSize: 12.5, color: TXT, margin: 7 },
    splitLine: { show: true, lineStyle: { color: '#e3e3e3', width: 1 } } });
  const data = HOURS.map((h, i) => [i, 0]);
  const ws = WORK_SIDE[p];
  series.push({ type: 'custom', name: LEGEND[0], xAxisIndex: p, yAxisIndex: p, data,
    encode: { x: 0, y: 1 }, itemStyle: { color: C_WORK }, silent: true,
    renderItem: makeRender(WORK[p], ws, C_WORK) });
  series.push({ type: 'custom', name: LEGEND[1], xAxisIndex: p, yAxisIndex: p, data,
    encode: { x: 0, y: 1 }, itemStyle: { color: C_OFF }, silent: true,
    renderItem: makeRender(OFF[p], -ws, C_OFF) });
  graphics.push({ type: 'text', x: COL_LEFT[col] + COL_W[col] / 2, y: ROW_TOP[row] - 8.5,
    style: { text: m, font: '12.5px "DejaVu Sans"', fill: TXT, textAlign: 'center', textVerticalAlign: 'middle' } });
  if (col === 0) {
    graphics.push({ type: 'text', x: 15, y: ROW_TOP[row] + ROW_H / 2, rotation: Math.PI / 2,
      style: { text: 'Load [kWh]', font: '12.5px "DejaVu Sans"', fill: TXT, textAlign: 'center', textVerticalAlign: 'middle' } });
  }
  if (row === 3) {
    graphics.push({ type: 'text', x: COL_LEFT[col] + COL_W[col] / 2, y: 476,
      style: { text: 'Hours', font: '13px "DejaVu Sans"', fill: TXT, textAlign: 'center', textVerticalAlign: 'middle' } });
  }
});

const chart = echarts.init(document.getElementById('c'), null, { renderer: 'canvas' });
chart.setOption({
  animation: false,
  backgroundColor: '#ffffff',
  grid: grids, xAxis: xAxes, yAxis: yAxes, series,
  graphic: graphics,
  legend: { data: LEGEND, left: 350, top: 472, orient: 'horizontal', icon: 'rect',
    itemWidth: 22, itemHeight: 10, itemGap: 17, padding: [5, 4, 5, 5],
    borderColor: '#cccccc', borderWidth: 1, borderRadius: 3,
    textStyle: { fontFamily: FONT, fontSize: 11, color: TXT } }
});
</script></body></html>
